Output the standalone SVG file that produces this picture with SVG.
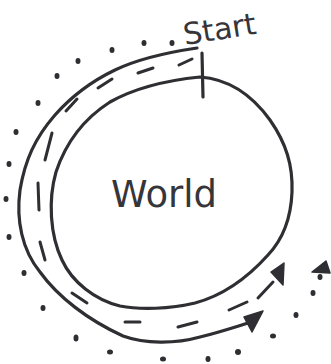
<svg xmlns="http://www.w3.org/2000/svg" width="331" height="364" viewBox="0 0 331 364">
<style>
.ln{fill:none;stroke:#2e2e33;stroke-width:3.2;stroke-linecap:round;stroke-linejoin:round}
.ds{fill:none;stroke:#2e2e33;stroke-width:3;stroke-linecap:round}
.dt{fill:#2e2e33}
.hd{fill:#2e2e33;stroke:#2e2e33;stroke-width:1.5;stroke-linejoin:round}
.tx{font-family:"DejaVu Sans","Liberation Sans",sans-serif;fill:#35353a}
</style>
<rect width="331" height="364" fill="#ffffff"/>
<g id="world">
<path class="ln" d="M200,77 C228,79 252,95 270,120 C286,143 293,165 292,192 C291,218 284,238 268,255 C250,275 225,295 195,303 C170,309 140,310 120,306 C95,300 72,282 62,260 C50,235 48,200 56,172 C66,142 85,118 110,102 C135,88 170,80 200,77 Z"/>
<text class="tx" x="111" y="207" font-size="37">World</text>
</g>
<g id="start">
<line class="ln" x1="202" y1="53" x2="203" y2="97"/>
<text class="tx" x="185" y="45" font-size="30" transform="rotate(-9 185 45)">Start</text>
</g>
<g id="connectors">
<g id="road-edge">
<path class="ln" d="M197,48 C170,52 140,58 115,70 C90,82 70,98 55,115 C35,138 25,160 20,190 C16,220 22,250 40,272 C58,297 88,320 123,336 C145,344 175,344 200,337 C220,332 235,327 248,323"/>
<polygon class="hd" points="263,311 244,317 252,332"/>
</g>
<g id="road-center">
<path class="ds" d="M179,65 L192,59 M138,73 L153,68 M98,88 L112,79 M66,111 L77,99 M45,160 L52,133 M38,183 L39,210 M40,242 L45,260 M72,293 L87,303 M125,322 L140,322 M178,327 L197,322 M229,310 L247,302 M258,298 L273,282"/>
<polygon class="hd" points="284,263 271,272 283,285"/>
</g>
<g id="dotted-path">
<ellipse class="dt" cx="172" cy="43" rx="2.5" ry="3"/>
<ellipse class="dt" cx="144" cy="43" rx="2.5" ry="3"/>
<ellipse class="dt" cx="112" cy="50" rx="2.5" ry="3"/>
<ellipse class="dt" cx="78" cy="61" rx="2.5" ry="3"/>
<ellipse class="dt" cx="57" cy="76" rx="2.5" ry="3"/>
<ellipse class="dt" cx="38" cy="103" rx="2.5" ry="3"/>
<ellipse class="dt" cx="16" cy="132" rx="2.5" ry="3"/>
<ellipse class="dt" cx="9" cy="164" rx="2.5" ry="3"/>
<ellipse class="dt" cx="6" cy="199" rx="2.5" ry="3"/>
<ellipse class="dt" cx="9" cy="237" rx="2.5" ry="3"/>
<ellipse class="dt" cx="24" cy="273" rx="2.5" ry="3"/>
<ellipse class="dt" cx="43" cy="308" rx="2.5" ry="3"/>
<ellipse class="dt" cx="76" cy="338" rx="2.5" ry="3.5"/>
<ellipse class="dt" cx="110" cy="352" rx="3" ry="2.5"/>
<ellipse class="dt" cx="163" cy="359" rx="3" ry="2.5"/>
<ellipse class="dt" cx="208" cy="359" rx="2.5" ry="3"/>
<ellipse class="dt" cx="238" cy="352" rx="3" ry="3"/>
<ellipse class="dt" cx="273" cy="336" rx="3" ry="2.5"/>
<ellipse class="dt" cx="296" cy="315" rx="2.5" ry="3"/>
<ellipse class="dt" cx="313" cy="293" rx="2.5" ry="3"/>
<ellipse class="dt" cx="320" cy="277" rx="2.5" ry="3"/>
<polygon class="hd" points="326,261 312,272 330,273"/>
</g>
</g>
</svg>
